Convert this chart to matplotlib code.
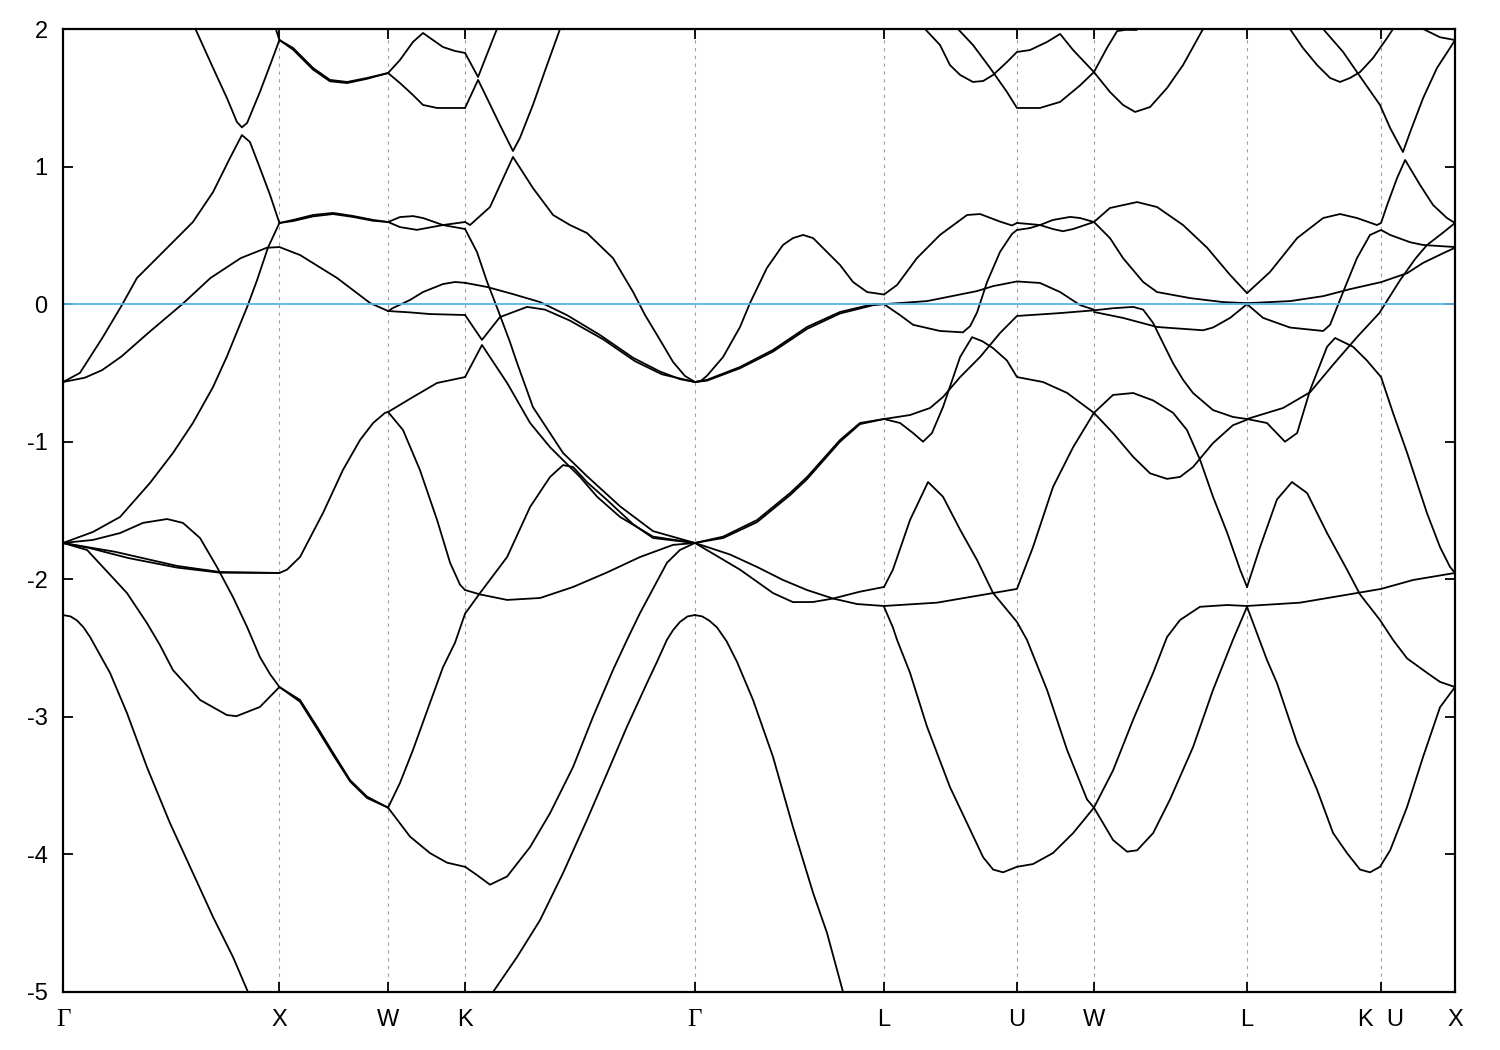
import matplotlib
matplotlib.use("Agg")
import matplotlib.pyplot as plt

plt.rcParams['font.family'] = ['Liberation Sans', 'DejaVu Sans']

# ---------------- data ----------------
k_ticks = [0.0, 0.998, 1.499, 1.854, 2.914, 3.786, 4.399, 4.754, 5.460, 6.078, 6.419]
k_labels = ['Γ', 'X', 'W', 'K', 'Γ', 'L', 'U', 'W', 'L', 'K  U', 'X']
e_ticks = [2, 1, 0, -1, -2, -3, -4, -5]
e_fermi = 0.0

# Gamma - X
gx_a = [(0.605, 2.02), (0.692, 1.717), (0.756, 1.498), (0.802, 1.324), (0.825, 1.285), (0.849, 1.317), (0.908, 1.542), (0.955, 1.738), (0.998, 1.92)]
gx_b = [(0.975, 2.03), (0.998, 1.92)]
gx_c = [(0.0, -0.566), (0.078, -0.50), (0.184, -0.239), (0.272, -0.006), (0.341, 0.19), (0.447, 0.357), (0.599, 0.597), (0.692, 0.815), (0.770, 1.062), (0.825, 1.229), (0.862, 1.179), (0.908, 0.99), (0.955, 0.793), (0.998, 0.59)]
gx_d = [(0.0, -0.566), (0.10, -0.535), (0.18, -0.48), (0.27, -0.38), (0.40, -0.20), (0.55, 0.0), (0.68, 0.19), (0.82, 0.335), (0.94, 0.41), (0.998, 0.415), (1.093, 0.357), (1.264, 0.19), (1.416, 0.008), (1.499, -0.05)]
gx_e = [(0.0, -1.736), (0.138, -1.656), (0.263, -1.547), (0.401, -1.30), (0.507, -1.082), (0.599, -0.864), (0.692, -0.602), (0.756, -0.38), (0.849, -0.021), (0.895, 0.175), (0.945, 0.41), (0.998, 0.59)]
gx_f = [(0.0, -1.736), (0.138, -1.714), (0.263, -1.664), (0.369, -1.59), (0.48, -1.562), (0.553, -1.59), (0.632, -1.70), (0.710, -1.911), (0.784, -2.13), (0.849, -2.347), (0.908, -2.565), (0.955, -2.69), (0.998, -2.783)]
gx_g = [(0.0, -1.736), (0.111, -1.787), (0.184, -1.911), (0.295, -2.10), (0.387, -2.318), (0.447, -2.478), (0.507, -2.66), (0.632, -2.877), (0.756, -2.987), (0.800, -2.995), (0.908, -2.928), (0.998, -2.783)]
gx_h1 = [(0.0, -1.736), (0.24, -1.80), (0.526, -1.903), (0.724, -1.947), (0.998, -1.954)]
gx_h2 = [(0.0, -1.736), (0.12, -1.772), (0.30, -1.845), (0.526, -1.915), (0.724, -1.952), (0.998, -1.954)]
gx_i = [(0.0, -2.26), (0.035, -2.27), (0.065, -2.30), (0.095, -2.35), (0.125, -2.42), (0.217, -2.681), (0.295, -2.972), (0.387, -3.365), (0.493, -3.771), (0.599, -4.135), (0.692, -4.455), (0.784, -4.746), (0.853, -5.0), (0.862, -5.05)]

# X - W
xw_a1 = [(0.998, 1.92), (1.061, 1.862), (1.153, 1.717), (1.231, 1.63), (1.310, 1.615), (1.402, 1.644), (1.499, 1.68)]
xw_a2 = [(0.998, 1.92), (1.061, 1.85), (1.153, 1.705), (1.231, 1.62), (1.310, 1.607), (1.402, 1.638), (1.499, 1.68)]
xw_b1 = [(0.998, 0.59), (1.061, 0.612), (1.153, 0.648), (1.245, 0.663), (1.337, 0.641), (1.430, 0.612), (1.499, 0.597)]
xw_b2 = [(0.998, 0.59), (1.061, 0.604), (1.153, 0.638), (1.245, 0.655), (1.337, 0.634), (1.430, 0.606), (1.499, 0.597)]
xw_c = [(0.998, -1.954), (1.033, -1.93), (1.093, -1.838), (1.199, -1.518), (1.291, -1.205), (1.370, -0.987), (1.430, -0.864), (1.485, -0.79), (1.499, -0.784)]
xw_d1 = [(0.998, -2.783), (1.093, -2.877), (1.171, -3.07), (1.245, -3.26), (1.324, -3.46), (1.402, -3.58), (1.499, -3.66)]
xw_d2 = [(0.998, -2.783), (1.093, -2.89), (1.171, -3.085), (1.245, -3.275), (1.324, -3.47), (1.402, -3.59), (1.499, -3.66)]

# W - K
wk_a = [(1.499, 1.68), (1.554, 1.775), (1.614, 1.906), (1.660, 1.971), (1.752, 1.869), (1.808, 1.84), (1.854, 1.826)]
wk_b = [(1.499, 1.68), (1.554, 1.607), (1.614, 1.52), (1.660, 1.448), (1.725, 1.426), (1.854, 1.426)]
wk_c = [(1.499, 0.597), (1.554, 0.633), (1.614, 0.64), (1.660, 0.626), (1.752, 0.575), (1.854, 0.546)]
wk_d = [(1.499, 0.597), (1.554, 0.56), (1.632, 0.54), (1.752, 0.575), (1.854, 0.597)]
wk_e = [(1.499, -0.05), (1.522, -0.028), (1.600, 0.03), (1.660, 0.088), (1.752, 0.146), (1.808, 0.161), (1.854, 0.155)]
wk_f = [(1.499, -0.05), (1.600, -0.06), (1.692, -0.072), (1.854, -0.079)]
wk_g = [(1.499, -0.784), (1.614, -0.675), (1.725, -0.573), (1.854, -0.53)]
wk_h = [(1.499, -0.784), (1.568, -0.915), (1.646, -1.206), (1.725, -1.569), (1.785, -1.88), (1.831, -2.04), (1.854, -2.078)]
wk_i = [(1.499, -3.66), (1.554, -3.48), (1.614, -3.24), (1.692, -2.90), (1.752, -2.64), (1.808, -2.46), (1.854, -2.25)]
wk_j = [(1.499, -3.66), (1.600, -3.87), (1.692, -3.99), (1.771, -4.06), (1.854, -4.09)]

# K - Gamma
kg_a = [(1.854, 1.826), (1.914, 1.651), (2.001, 2.0), (2.012, 2.05)]
kg_b = [(1.854, 1.426), (1.914, 1.63), (1.955, 1.498), (2.015, 1.302), (2.075, 1.113), (2.107, 1.208), (2.167, 1.448), (2.232, 1.738), (2.292, 2.0), (2.300, 2.04)]
kg_c = [(1.854, 0.597), (1.877, 0.575), (1.969, 0.706), (2.075, 1.07), (2.167, 0.844), (2.260, 0.648), (2.338, 0.575), (2.416, 0.517), (2.536, 0.335), (2.629, 0.088), (2.684, -0.079), (2.753, -0.26), (2.813, -0.42), (2.868, -0.522), (2.914, -0.566)]
kg_d = [(1.854, 0.546), (1.909, 0.379), (1.955, 0.165), (2.010, -0.06), (2.061, -0.275), (2.094, -0.428), (2.167, -0.748), (2.306, -1.082), (2.416, -1.25), (2.569, -1.47), (2.721, -1.65), (2.914, -1.736)]
kg_e = [(1.854, 0.155), (1.955, 0.125), (2.075, 0.073), (2.200, 0.015), (2.324, -0.08), (2.476, -0.224), (2.629, -0.39), (2.753, -0.49), (2.845, -0.545), (2.914, -0.566)]
kg_f = [(1.854, -0.079), (1.932, -0.26), (2.015, -0.094), (2.140, -0.02), (2.223, -0.04), (2.338, -0.12), (2.490, -0.255), (2.638, -0.415), (2.762, -0.51), (2.914, -0.566)]
kg_g = [(1.854, -0.53), (1.932, -0.297), (2.048, -0.573), (2.154, -0.864), (2.246, -1.04), (2.384, -1.256), (2.463, -1.40), (2.569, -1.547), (2.721, -1.69), (2.914, -1.736)]
kg_h = [(1.854, -2.078), (1.923, -2.11), (2.048, -2.15), (2.200, -2.136), (2.352, -2.056), (2.509, -1.95), (2.661, -1.838), (2.813, -1.75), (2.914, -1.736)]
kg_i = [(1.854, -2.25), (1.923, -2.10), (2.048, -1.838), (2.154, -1.474), (2.246, -1.256), (2.306, -1.17), (2.352, -1.184), (2.416, -1.293), (2.509, -1.424), (2.629, -1.60), (2.721, -1.70), (2.914, -1.736)]
kg_j = [(1.854, -4.09), (1.909, -4.15), (1.969, -4.22), (2.048, -4.16), (2.154, -3.946), (2.246, -3.70), (2.352, -3.365), (2.444, -3.0), (2.536, -2.66), (2.601, -2.44), (2.661, -2.245), (2.785, -1.88), (2.845, -1.787), (2.914, -1.736)]
kg_k = [(1.975, -5.02), (1.983, -5.0), (2.094, -4.745), (2.200, -4.477), (2.306, -4.135), (2.416, -3.75), (2.509, -3.41), (2.601, -3.07), (2.693, -2.754), (2.739, -2.60), (2.785, -2.44), (2.813, -2.37), (2.845, -2.31), (2.880, -2.27), (2.914, -2.26)]

# Gamma - L
gl_a = [(2.914, -0.566), (2.940, -0.56), (2.970, -0.52), (3.044, -0.384), (3.122, -0.166), (3.168, 0.008), (3.246, 0.263), (3.320, 0.43), (3.366, 0.48), (3.413, 0.503), (3.459, 0.48), (3.523, 0.379), (3.583, 0.285), (3.643, 0.161), (3.708, 0.088), (3.786, 0.07)]
gl_b1 = [(2.914, -0.566), (2.970, -0.55), (3.122, -0.457), (3.274, -0.333), (3.431, -0.166), (3.583, -0.057), (3.735, 0.0), (3.786, 0.0)]
gl_b2 = [(2.914, -0.566), (2.970, -0.556), (3.122, -0.466), (3.274, -0.345), (3.431, -0.18), (3.583, -0.068), (3.735, -0.008), (3.786, 0.0)]
gl_c1 = [(2.914, -1.736), (3.044, -1.69), (3.200, -1.57), (3.353, -1.373), (3.431, -1.257), (3.583, -0.988), (3.675, -0.864), (3.786, -0.835)]
gl_c2 = [(2.914, -1.736), (3.044, -1.70), (3.200, -1.585), (3.353, -1.388), (3.431, -1.272), (3.583, -1.0), (3.675, -0.872), (3.786, -0.835)]
gl_d = [(2.914, -1.736), (3.122, -1.93), (3.274, -2.10), (3.366, -2.166), (3.459, -2.165), (3.551, -2.14), (3.675, -2.09), (3.786, -2.056)]
gl_e = [(2.914, -1.736), (3.076, -1.82), (3.200, -1.91), (3.320, -2.005), (3.431, -2.078), (3.551, -2.14), (3.662, -2.18), (3.786, -2.194)]
gl_f = [(2.914, -2.26), (2.948, -2.27), (2.980, -2.30), (3.016, -2.35), (3.060, -2.45), (3.108, -2.60), (3.182, -2.877), (3.274, -3.29), (3.366, -3.80), (3.459, -4.28), (3.523, -4.57), (3.597, -5.0), (3.605, -5.04)]

# L - U - W
lu_a = [(3.786, 0.07), (3.846, 0.139), (3.938, 0.335), (4.044, 0.503), (4.169, 0.648), (4.229, 0.655), (4.321, 0.60), (4.376, 0.572), (4.399, 0.59)]
lu_b = [(3.786, 0.0), (3.860, -0.08), (3.920, -0.15), (4.044, -0.195), (4.150, -0.205), (4.183, -0.16), (4.215, -0.06), (4.261, 0.16), (4.321, 0.38), (4.376, 0.51), (4.399, 0.539)]
lu_c = [(3.786, 0.0), (3.984, 0.022), (4.215, 0.095), (4.289, 0.131), (4.399, 0.165), (4.505, 0.154), (4.598, 0.088), (4.690, -0.007), (4.754, -0.04)]
lu_d = [(3.786, -0.835), (3.906, -0.806), (3.998, -0.755), (4.058, -0.675), (4.137, -0.53), (4.229, -0.384), (4.321, -0.21), (4.399, -0.086), (4.598, -0.065), (4.754, -0.045)]
lu_e = [(3.786, -0.835), (3.860, -0.864), (3.920, -0.937), (3.966, -1.0), (4.007, -0.937), (4.058, -0.748), (4.137, -0.384), (4.192, -0.24), (4.240, -0.27), (4.289, -0.32), (4.353, -0.41), (4.399, -0.53), (4.519, -0.566), (4.630, -0.645), (4.754, -0.79)]
lu_f = [(3.786, -2.056), (3.827, -1.93), (3.906, -1.569), (3.989, -1.293), (4.058, -1.40), (4.137, -1.64), (4.215, -1.86), (4.289, -2.10), (4.399, -2.31), (4.445, -2.44), (4.538, -2.805), (4.630, -3.24), (4.722, -3.60), (4.754, -3.66)]
lu_g = [(3.786, -2.194), (4.030, -2.17), (4.289, -2.10), (4.399, -2.07), (4.473, -1.766), (4.565, -1.33), (4.658, -1.04), (4.754, -0.79)]
lu_h = [(3.786, -2.2), (3.827, -2.35), (3.846, -2.44), (3.906, -2.68), (3.984, -3.07), (4.090, -3.51), (4.183, -3.82), (4.243, -4.02), (4.289, -4.11), (4.335, -4.13), (4.399, -4.09), (4.473, -4.07), (4.565, -3.99), (4.658, -3.845), (4.754, -3.66)]
lu_i = [(3.970, 2.03), (3.975, 2.0), (4.044, 1.884), (4.090, 1.738), (4.137, 1.666), (4.196, 1.615), (4.243, 1.622), (4.289, 1.666), (4.353, 1.76), (4.399, 1.833), (4.459, 1.847), (4.538, 1.906), (4.598, 1.964), (4.658, 1.847), (4.754, 1.687)]
lu_j = [(4.120, 2.02), (4.127, 2.0), (4.196, 1.884), (4.275, 1.717), (4.353, 1.542), (4.399, 1.426), (4.505, 1.426), (4.598, 1.47), (4.690, 1.59), (4.754, 1.687)]
uw_a = [(4.399, 0.59), (4.459, 0.582), (4.505, 0.575), (4.565, 0.546), (4.611, 0.53), (4.658, 0.546), (4.754, 0.597)]
uw_b = [(4.399, 0.539), (4.459, 0.553), (4.505, 0.575), (4.565, 0.612), (4.644, 0.634), (4.690, 0.626), (4.754, 0.597)]

# W - L
wl_a = [(4.754, 1.687), (4.828, 1.542), (4.888, 1.448), (4.944, 1.397), (5.013, 1.433), (5.091, 1.571), (5.165, 1.738), (5.257, 2.0), (5.270, 2.04)]
wl_b = [(4.754, 1.687), (4.814, 1.862), (4.861, 1.985), (4.900, 1.994), (4.950, 1.993), (4.975, 2.02)]
wl_c = [(4.754, 0.597), (4.828, 0.699), (4.953, 0.742), (5.045, 0.706), (5.165, 0.575), (5.276, 0.41), (5.382, 0.212), (5.460, 0.08)]
wl_d = [(4.754, 0.597), (4.828, 0.48), (4.888, 0.335), (4.981, 0.161), (5.045, 0.088), (5.197, 0.044), (5.349, 0.015), (5.460, 0.007)]
wl_e = [(4.754, -0.045), (4.842, -0.03), (4.935, -0.02), (4.981, -0.04), (5.027, -0.137), (5.059, -0.24), (5.119, -0.43), (5.165, -0.55), (5.211, -0.646), (5.303, -0.77), (5.395, -0.82), (5.460, -0.835)]
wl_f = [(4.754, -0.057), (4.888, -0.10), (5.045, -0.166), (5.257, -0.19), (5.303, -0.17), (5.382, -0.10), (5.460, 0.0)]
wl_g = [(4.754, -0.79), (4.842, -0.66), (4.935, -0.646), (5.027, -0.70), (5.119, -0.79), (5.183, -0.915), (5.243, -1.13), (5.303, -1.40), (5.368, -1.66), (5.428, -1.93), (5.460, -2.056)]
wl_h = [(4.754, -0.79), (4.842, -0.937), (4.935, -1.11), (5.013, -1.23), (5.091, -1.27), (5.151, -1.256), (5.211, -1.184), (5.303, -1.01), (5.395, -0.88), (5.460, -0.84)]
wl_i = [(4.754, -3.66), (4.842, -3.39), (4.935, -3.02), (5.027, -2.68), (5.091, -2.42), (5.151, -2.296), (5.243, -2.20), (5.368, -2.187), (5.460, -2.194)]
wl_j = [(4.754, -3.66), (4.842, -3.895), (4.907, -3.98), (4.953, -3.97), (5.027, -3.845), (5.105, -3.60), (5.211, -3.22), (5.303, -2.805), (5.395, -2.44), (5.460, -2.2)]

# L - K|U - X
lk_a = [(5.460, 0.08), (5.566, 0.234), (5.691, 0.48), (5.811, 0.626), (5.889, 0.655), (5.967, 0.626), (6.059, 0.575), (6.078, 0.59), (6.106, 0.72), (6.152, 0.917), (6.189, 1.048), (6.258, 0.866), (6.318, 0.72), (6.382, 0.626), (6.419, 0.59)]
lk_b = [(5.460, 0.007), (5.658, 0.022), (5.811, 0.058), (5.935, 0.109), (6.078, 0.16), (6.198, 0.225), (6.272, 0.30), (6.364, 0.37), (6.419, 0.41)]
lk_c = [(5.460, 0.0), (5.534, -0.1), (5.658, -0.17), (5.811, -0.195), (5.843, -0.15), (5.903, 0.088), (5.967, 0.335), (6.027, 0.503), (6.078, 0.539), (6.120, 0.503), (6.212, 0.45), (6.272, 0.43), (6.419, 0.415)]
lk_d = [(5.460, -0.835), (5.626, -0.755), (5.751, -0.64), (5.857, -0.44), (5.967, -0.24), (6.070, -0.065), (6.166, 0.175), (6.236, 0.33), (6.290, 0.43), (6.364, 0.52), (6.419, 0.59)]
lk_e = [(5.460, -0.835), (5.552, -0.864), (5.635, -1.0), (5.691, -0.937), (5.751, -0.624), (5.829, -0.31), (5.866, -0.246), (5.949, -0.31), (6.013, -0.41), (6.078, -0.53), (6.133, -0.79), (6.198, -1.08), (6.290, -1.52), (6.350, -1.766), (6.396, -1.91), (6.419, -1.954)]
lk_f = [(5.460, -2.056), (5.520, -1.766), (5.598, -1.42), (5.667, -1.293), (5.737, -1.373), (5.829, -1.664), (5.921, -1.93), (5.981, -2.11), (6.073, -2.296), (6.133, -2.44), (6.198, -2.575), (6.290, -2.68), (6.350, -2.746), (6.419, -2.783)]
lk_g = [(5.460, -2.2), (5.552, -2.587), (5.598, -2.754), (5.691, -3.19), (5.783, -3.53), (5.857, -3.845), (5.921, -3.99), (5.981, -4.11), (6.027, -4.13), (6.073, -4.09), (6.120, -3.97), (6.198, -3.655), (6.272, -3.29), (6.350, -2.93), (6.419, -2.783)]
lk_h = [(5.460, -2.194), (5.704, -2.17), (5.967, -2.10), (6.078, -2.07), (6.226, -2.005), (6.419, -1.954)]
lk_i = [(5.650, 2.04), (5.658, 2.0), (5.718, 1.862), (5.783, 1.738), (5.843, 1.644), (5.889, 1.615), (5.935, 1.644), (5.981, 1.687), (6.041, 1.789), (6.106, 1.935), (6.133, 2.0), (6.140, 2.03)]
lk_j = [(5.805, 2.02), (5.811, 2.0), (5.903, 1.833), (5.967, 1.687), (6.041, 1.52), (6.073, 1.448), (6.120, 1.28), (6.179, 1.106), (6.212, 1.25), (6.272, 1.498), (6.336, 1.717), (6.396, 1.862), (6.419, 1.92)]
lk_k = [(6.262, 2.02), (6.272, 2.0), (6.350, 1.94), (6.419, 1.92)]

bands = [gx_a, gx_b, gx_c, gx_d, gx_e, gx_f, gx_g, gx_h1, gx_h2, gx_i,
         xw_a1, xw_a2, xw_b1, xw_b2, xw_c, xw_d1, xw_d2,
         wk_a, wk_b, wk_c, wk_d, wk_e, wk_f, wk_g, wk_h, wk_i, wk_j,
         kg_a, kg_b, kg_c, kg_d, kg_e, kg_f, kg_g, kg_h, kg_i, kg_j, kg_k,
         gl_a, gl_b1, gl_b2, gl_c1, gl_c2, gl_d, gl_e, gl_f,
         lu_a, lu_b, lu_c, lu_d, lu_e, lu_f, lu_g, lu_h, lu_i, lu_j, uw_a, uw_b,
         wl_a, wl_b, wl_c, wl_d, wl_e, wl_f, wl_g, wl_h, wl_i, wl_j,
         lk_a, lk_b, lk_c, lk_d, lk_e, lk_f, lk_g, lk_h, lk_i, lk_j, lk_k]

# ---------------- figure ----------------
fig = plt.figure(figsize=(15, 10.5), dpi=100)
ax = fig.add_axes([63 / 1500, 1 - 992 / 1050, (1455 - 63) / 1500, (992 - 29) / 1050])

for kv in k_ticks[1:-1]:
    ax.axvline(kv, color='#a0a0a0', lw=0.8, linestyle=(0, (3, 4)), zorder=1)

for band in bands:
    ks = [p[0] for p in band]
    es = [p[1] for p in band]
    ax.plot(ks, es, color='black', lw=1.3, solid_joinstyle='round',
            solid_capstyle='round', zorder=2)

ax.axhline(e_fermi, color='#56b4e9', lw=1.3, zorder=3)

ax.set_xlim(k_ticks[0], k_ticks[-1])
ax.set_ylim(-5, 2)
ax.set_xticks(k_ticks)
ax.set_xticklabels(k_labels)
ax.set_yticks(e_ticks)
ax.set_yticklabels([str(v) for v in e_ticks])

ax.tick_params(axis='both', direction='in', top=True, right=True,
               length=7, width=1.3, labelsize=17, colors='black')
ax.tick_params(axis='x', pad=12)
ax.tick_params(axis='y', pad=11)
for lab in ax.get_xticklabels():
    if lab.get_text() == 'Γ':
        lab.set_fontfamily(['Liberation Serif', 'DejaVu Serif'])
        lab.set_fontsize(18)

for sp in ax.spines.values():
    sp.set_linewidth(1.6)
    sp.set_zorder(5)

fig.savefig('out.png', dpi=100)
